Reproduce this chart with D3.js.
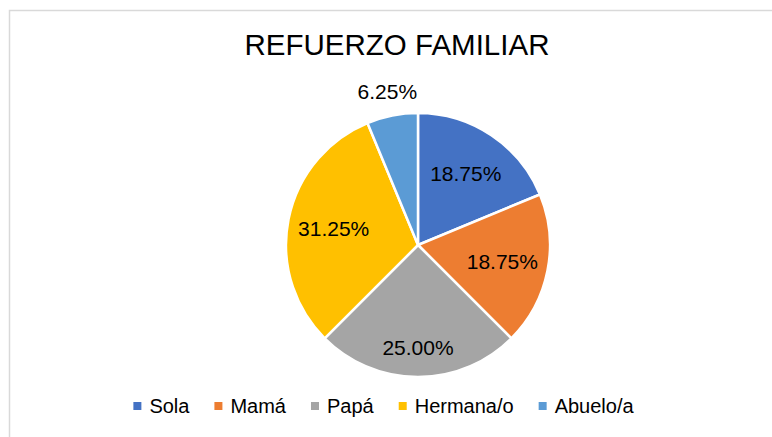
<!DOCTYPE html>
<html>
<head>
<meta charset="utf-8">
<script src="https://cdn.jsdelivr.net/npm/d3@7"></script>
<style>
  html, body { margin: 0; padding: 0; background: #fff; }
  svg { display: block; }
  text { font-family: "Liberation Sans", Arial, sans-serif; }
</style>
</head>
<body>
<script>
// ---- data ----
const title = "REFUERZO FAMILIAR";
const categories = ["Sola", "Mamá", "Papá", "Hermana/o", "Abuelo/a"];
const values = [18.75, 18.75, 25.00, 31.25, 6.25];
const colors = ["#4472C4", "#ED7D31", "#A5A5A5", "#FFC000", "#5B9BD5"];

// ---- layout ----
const W = 772, H = 437;
const cx = 418, cy = 245, R = 132;
const labelRadius = [86, 86, 102, 86, 157];

const svg = d3.select("body").append("svg").attr("width", W).attr("height", H);

// chart frame
svg.append("rect")
  .attr("x", 9.5).attr("y", 10.5)
  .attr("width", W + 20).attr("height", H + 20)
  .attr("fill", "#fff").attr("stroke", "#D9D9D9").attr("stroke-width", 1.5);

// title
svg.append("text")
  .attr("x", 397).attr("y", 55)
  .attr("text-anchor", "middle")
  .attr("font-size", 29.5)
  .attr("fill", "#000")
  .text(title);

const data = categories.map((c, i) => ({ cat: c, value: values[i], color: colors[i], i }));

const pie = d3.pie().value(d => d.value).sort(null);
const arcs = pie(data);
const arc = d3.arc().innerRadius(0).outerRadius(R);

const g = svg.append("g").attr("transform", `translate(${cx},${cy})`);

g.selectAll("path.slice")
  .data(arcs)
  .join("path")
  .attr("class", "slice")
  .attr("d", arc)
  .attr("fill", d => d.data.color)
  .attr("stroke", "#fff")
  .attr("stroke-width", 2.5)
  .attr("stroke-linejoin", "round");

const fmt = d3.format(".2f");
g.selectAll("text.lbl")
  .data(arcs)
  .join("text")
  .attr("class", "lbl")
  .attr("transform", d => {
    const a = (d.startAngle + d.endAngle) / 2;
    const r = labelRadius[d.data.i];
    return `translate(${r * Math.sin(a)},${-r * Math.cos(a)})`;
  })
  .attr("text-anchor", "middle")
  .attr("dy", "0.36em")
  .attr("font-size", 21)
  .attr("fill", "#000")
  .text(d => fmt(d.data.value) + "%");

// legend
const legend = svg.append("g");
const items = legend.selectAll("g.item")
  .data(data)
  .join("g")
  .attr("class", "item");

items.append("rect")
  .attr("width", 8).attr("height", 8)
  .attr("y", -11)
  .attr("fill", d => d.color);

items.append("text")
  .attr("x", 16)
  .attr("y", 0)
  .attr("font-size", 20)
  .attr("fill", "#000")
  .text(d => d.cat);

let x = 0;
items.each(function () {
  const t = d3.select(this).select("text").node().getComputedTextLength();
  d3.select(this).attr("transform", `translate(${x},0)`);
  x += 16 + t + 25;
});
const totalW = x - 25;
legend.attr("transform", `translate(${383.5 - totalW / 2},413)`);
</script>
</body>
</html>
